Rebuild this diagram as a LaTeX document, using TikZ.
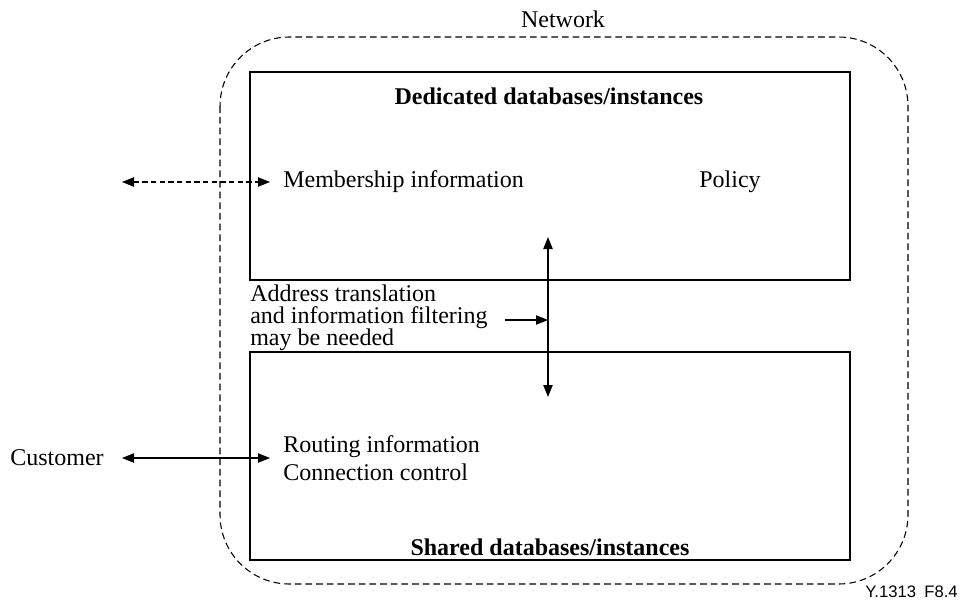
\documentclass[tikz,border=0pt]{standalone}
\usepackage{fontspec}
\setmainfont{Liberation Serif}
\newfontfamily\labelsans{Liberation Sans}
\usetikzlibrary{arrows.meta}
\newcommand\tightlines{\lineskiplimit=-20pt\relax}
\begin{document}
\begin{tikzpicture}[x=0.75pt,y=-0.75pt,
  txt/.style={font=\fontsize{18}{16.5}\selectfont\tightlines, inner sep=0pt},
  boldtxt/.style={txt, font=\fontsize{18}{16.5}\selectfont\bfseries},
  dbbox/.style={draw, line width=0.8pt},
  netline/.style={line width=0.8pt, dash pattern=on 5pt off 3pt},
  conn/.style={line width=0.8pt, {Triangle[length=9pt,width=7pt]}-{Triangle[length=9pt,width=7pt]}},
  oneway/.style={line width=0.8pt, -{Triangle[length=9pt,width=7pt]}}]
\useasboundingbox (0,0) rectangle (960,600);

% network boundary
\draw[netline, rounded corners=52pt] (220,37) rectangle (908,584);
\node[txt] (net) at (563,19) {Network};

% database boxes
\draw[dbbox] (250,72) rectangle (850,280);
\draw[dbbox] (250,352) rectangle (850,560);
\node[boldtxt] (ded) at (549,96) {Dedicated databases/instances};
\node[boldtxt] (sh) at (550,547) {Shared databases/instances};

% contents
\node[txt, anchor=west] (mem) at (283,182) {Membership information};
\node[txt] (pol) at (730,182) {Policy};
\node[txt, anchor=west, align=left, font=\fontsize{18}{20.5}\selectfont] (route) at (283,458) {Routing information\\Connection control};
\node[txt, anchor=west, align=left] (addr) at (250,318) {Address translation\\and information filtering\\may be needed};
\node[txt, anchor=east] (cust) at (104,458) {Customer};
\node[font=\labelsans\fontsize{12.5}{14}\selectfont, anchor=east, inner sep=0pt] (fig) at (958,592) {Y.1313\enspace F8.4};

% connectors
\coordinate (memL) at (122,182);
\coordinate (memR) at (270,182);
\coordinate (cusL) at (122,458);
\coordinate (cusR) at (270,458);
\coordinate (vT) at (548,237);
\coordinate (vB) at (548,397);
\coordinate (hA) at (505,320);
\coordinate (hB) at (548,320);
\draw[conn, dash pattern=on 4pt off 2.5pt] (memL) -- (memR);
\draw[conn] (cusL) -- (cusR);
\draw[conn] (vT) -- (vB);
\draw[oneway] (hA) -- (hB);
\end{tikzpicture}
\end{document}
